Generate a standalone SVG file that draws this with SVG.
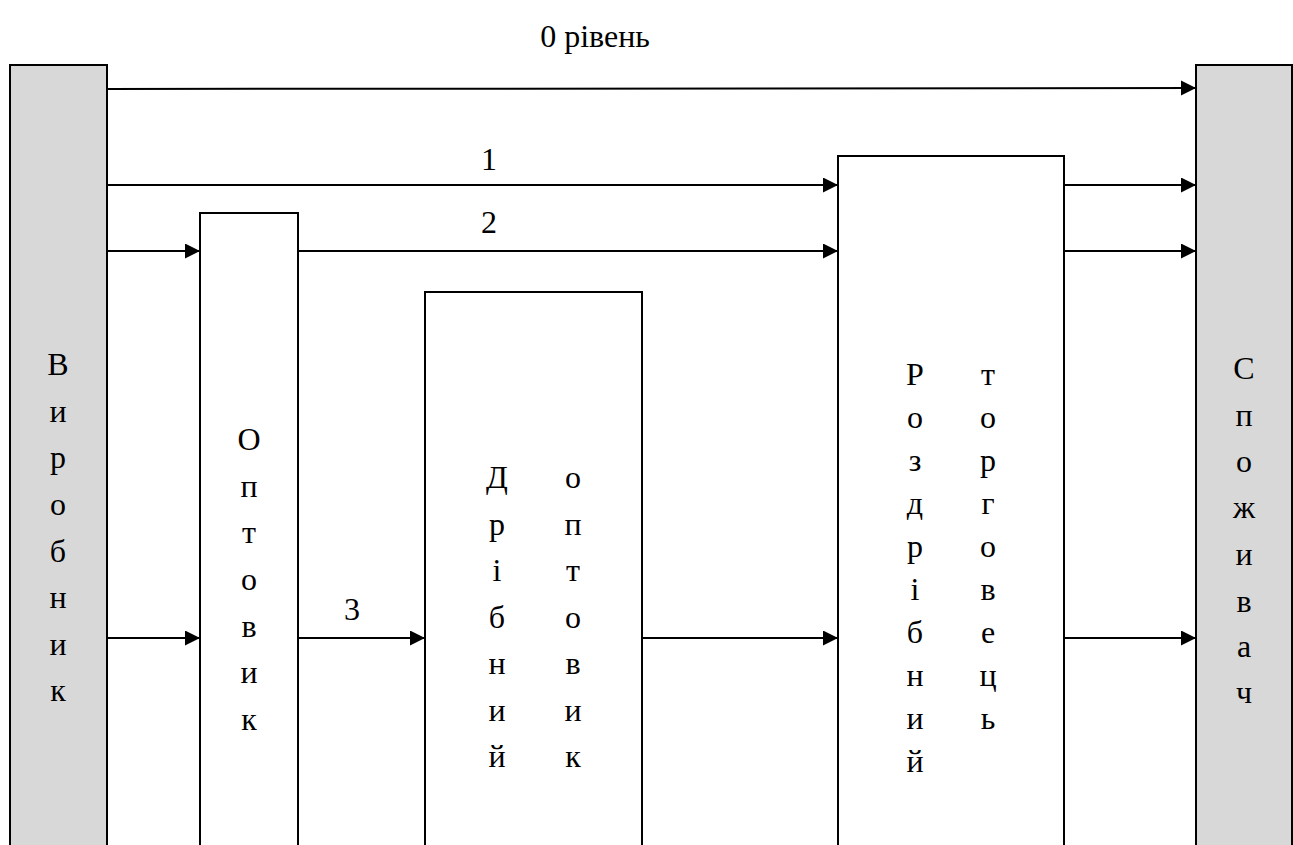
<svg xmlns="http://www.w3.org/2000/svg" width="1293" height="845" viewBox="0 0 1293 845">
<style>
.box{fill:#fff;stroke:#000;stroke-width:2}
.gray{fill:#d8d8d8;stroke:#000;stroke-width:2}
.ln{stroke:#000;stroke-width:2;fill:none;marker-end:url(#ah)}
</style>
<defs>
<marker id="ah" markerUnits="userSpaceOnUse" markerWidth="16" markerHeight="16" refX="15" refY="7.5" orient="auto">
<path d="M0,0 L15,7.5 L0,15 Z" fill="#000"/>
</marker>
</defs>
<rect width="1293" height="845" fill="#fff"/>
<g font-family="Liberation Serif, DejaVu Serif, serif" font-size="32" fill="#000" text-anchor="middle">
<text x="595" y="47">0 рівень</text>
<g id="vyrobnyk">
<rect class="gray" x="10" y="65" width="97" height="790"/>
<text><tspan x="58" y="375">В</tspan><tspan x="58" y="422">и</tspan><tspan x="58" y="468">р</tspan><tspan x="58" y="515">о</tspan><tspan x="58" y="562">б</tspan><tspan x="58" y="608">н</tspan><tspan x="58" y="655">и</tspan><tspan x="58" y="701">к</tspan></text>
</g>
<g id="optovyk">
<rect class="box" x="200" y="213" width="98" height="640"/>
<text><tspan x="249" y="450">О</tspan><tspan x="249" y="497">п</tspan><tspan x="249" y="543">т</tspan><tspan x="249" y="590">о</tspan><tspan x="249" y="637">в</tspan><tspan x="249" y="683">и</tspan><tspan x="249" y="730">к</tspan></text>
</g>
<g id="dribnyi-optovyk">
<rect class="box" x="425" y="292" width="217" height="560"/>
<text><tspan x="497" y="488">Д</tspan><tspan x="497" y="535">р</tspan><tspan x="497" y="581">і</tspan><tspan x="497" y="628">б</tspan><tspan x="497" y="674">н</tspan><tspan x="497" y="721">и</tspan><tspan x="497" y="767">й</tspan></text>
<text><tspan x="573" y="488">о</tspan><tspan x="573" y="535">п</tspan><tspan x="573" y="581">т</tspan><tspan x="573" y="628">о</tspan><tspan x="573" y="674">в</tspan><tspan x="573" y="721">и</tspan><tspan x="573" y="767">к</tspan></text>
</g>
<g id="rozdribnyi-torhovets">
<rect class="box" x="838" y="156" width="226" height="700"/>
<text><tspan x="915" y="385">Р</tspan><tspan x="915" y="428">о</tspan><tspan x="915" y="471">з</tspan><tspan x="915" y="514">д</tspan><tspan x="915" y="557">р</tspan><tspan x="915" y="600">і</tspan><tspan x="915" y="643">б</tspan><tspan x="915" y="686">н</tspan><tspan x="915" y="729">и</tspan><tspan x="915" y="772">й</tspan></text>
<text><tspan x="988" y="385">т</tspan><tspan x="988" y="428">о</tspan><tspan x="988" y="471">р</tspan><tspan x="988" y="514">г</tspan><tspan x="988" y="557">о</tspan><tspan x="988" y="600">в</tspan><tspan x="988" y="643">е</tspan><tspan x="988" y="686">ц</tspan><tspan x="988" y="729">ь</tspan></text>
</g>
<g id="spozhyvach">
<rect class="gray" x="1196" y="65" width="96" height="790"/>
<text><tspan x="1244" y="379">С</tspan><tspan x="1244" y="426">п</tspan><tspan x="1244" y="472">о</tspan><tspan x="1244" y="518">ж</tspan><tspan x="1244" y="565">и</tspan><tspan x="1244" y="612">в</tspan><tspan x="1244" y="657">а</tspan><tspan x="1244" y="703">ч</tspan></text>
</g>
<g id="connectors">
<path class="ln" d="M107,89 L1196,88"/>
<path class="ln" d="M107,185 H838"/>
<path class="ln" d="M1064,185 H1196"/>
<path class="ln" d="M107,251 H200"/>
<path class="ln" d="M298,251 H838"/>
<path class="ln" d="M1064,251 H1196"/>
<path class="ln" d="M107,638 H200"/>
<path class="ln" d="M298,638 H425"/>
<path class="ln" d="M642,638 H838"/>
<path class="ln" d="M1064,638 H1196"/>
<text x="489" y="170">1</text>
<text x="489" y="233">2</text>
<text x="352" y="620">3</text>
</g>
</g>
</svg>
